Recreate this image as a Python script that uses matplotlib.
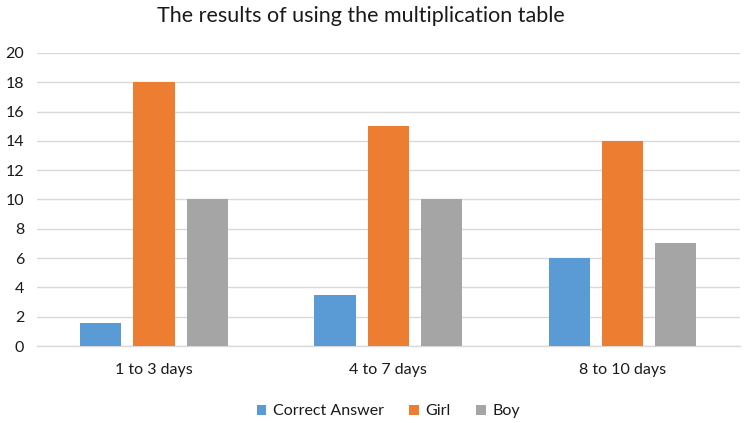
import numpy as np
import matplotlib
matplotlib.use('Agg')
import matplotlib.pyplot as plt

plt.rcParams['font.family'] = ['Lato', 'DejaVu Sans']

# data
categories = ['1 to 3 days', '4 to 7 days', '8 to 10 days']
correct_answer = [1.6, 3.5, 6]
girl = [18, 15, 14]
boy = [10, 10, 7]

series = [('Correct Answer', correct_answer, '#5B9BD5'),
          ('Girl', girl, '#ED7D31'),
          ('Boy', boy, '#A5A5A5')]

fig = plt.figure(figsize=(7.51, 4.23), dpi=100)
ax = fig.add_axes([0.049, 0.182, 0.936, 0.693])

x = np.arange(len(categories))
width = 0.176
step = 0.227
for i, (name, vals, col) in enumerate(series):
    ax.bar(x + (i - 1) * step, vals, width, color=col, label=name, zorder=3)

ax.set_xlim(-0.5, len(categories) - 0.5)
ax.set_ylim(0, 20)
ax.set_yticks(range(0, 21, 2))
ax.set_xticks(x)
ax.set_xticklabels(categories)
ax.tick_params(axis='both', length=0, labelsize=11.5, colors='#1a1a1a')
ax.tick_params(axis='x', pad=12)
ax.tick_params(axis='y', pad=9)
ax.grid(axis='y', color='#D9D9D9', linewidth=1, zorder=0)
for s in ['top', 'right', 'left']:
    ax.spines[s].set_visible(False)
ax.spines['bottom'].set_color('#D9D9D9')
ax.spines['bottom'].set_linewidth(1)

fig.text(0.48, 0.962, 'The results of using the multiplication table',
         ha='center', va='center', fontsize=15.5, color='#1a1a1a')

ax.legend(loc='upper center', bbox_to_anchor=(0.5, -0.15), ncol=3, frameon=False,
          fontsize=11.5, handlelength=0.6, handleheight=0.6, handletextpad=0.4,
          columnspacing=1.6, labelcolor='#1a1a1a')

fig.savefig('out.png', dpi=100)
